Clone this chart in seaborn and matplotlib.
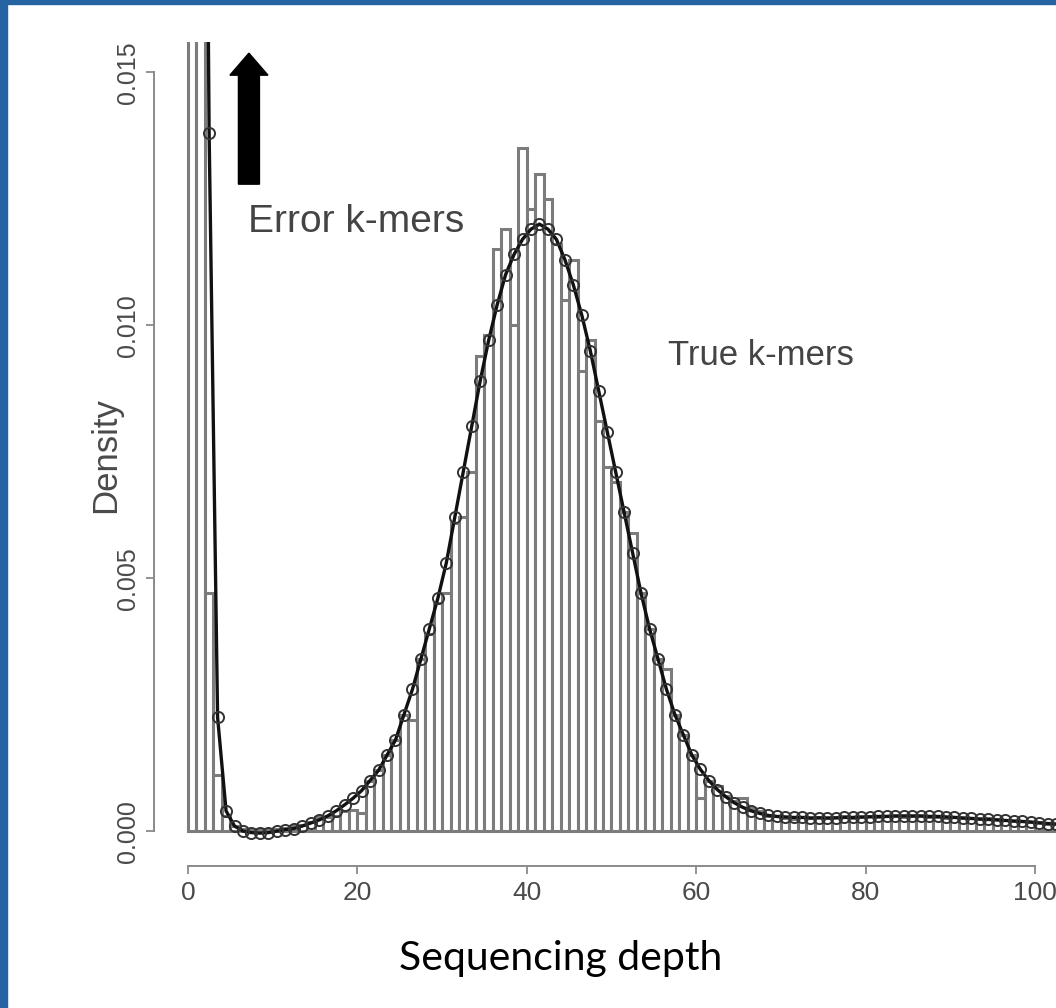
import matplotlib.pyplot as plt
from matplotlib.patches import Rectangle
import numpy as np
import pandas as pd
import seaborn as sns

sns.set_style("ticks")
plt.rcParams["font.family"] = ["Liberation Sans", "DejaVu Sans"]

# histogram: density per 1-unit depth bin, bins start at 0
bar_density = [
    0.060, 0.030, 0.0047, 0.0011, 0.0003, 0.0001, 0.00005, 0.00004, 0.00004, 0.00005,
    0.00005, 0.00007, 0.0001, 0.00012, 0.00018, 0.00028, 0.00027, 0.00029, 0.0004, 0.00042,
    0.00036, 0.0010, 0.0012, 0.0015, 0.0018, 0.0023, 0.0022, 0.0034, 0.0039, 0.0045,
    0.0047, 0.0061, 0.0062, 0.0071, 0.0094, 0.0098, 0.0115, 0.0119, 0.0100, 0.0135,
    0.0123, 0.0130, 0.0125, 0.0116, 0.0105, 0.0113, 0.0091, 0.0097, 0.0081, 0.0072,
    0.0069, 0.0063, 0.0059, 0.0047, 0.0040, 0.0034, 0.0032, 0.0023, 0.0019, 0.0015,
    0.00065, 0.0010, 0.0009, 0.0007, 0.0006, 0.00065, 0.00045, 0.0004, 0.0003, 0.0003,
    0.00026, 0.00024, 0.00027, 0.00025, 0.00028, 0.00026, 0.00027, 0.00029, 0.00026, 0.00028,
    0.0003, 0.00027, 0.00029, 0.0003, 0.00028, 0.0003, 0.00029, 0.00027, 0.00028, 0.00026,
    0.00027, 0.00025, 0.00026, 0.00024, 0.00025, 0.00023, 0.00022, 0.0002, 0.00019, 0.00018,
    0.00017, 0.00015, 0.00014,
]

# fitted mixture density, sampled at the bin midpoints
fit_density = [
    0.08, 0.035, 0.0138, 0.00225, 0.0004, 0.0001, 0.0, -0.00003, -0.00004, -0.00003,
    0.0, 0.00003, 0.00005, 0.0001, 0.00016, 0.00022, 0.0003, 0.0004, 0.00052, 0.00065,
    0.0008, 0.001, 0.0012, 0.0015, 0.0018, 0.0023, 0.0028, 0.0034, 0.0040, 0.0046,
    0.0053, 0.0062, 0.0071, 0.0080, 0.0089, 0.0097, 0.0104, 0.0110, 0.0114, 0.0117,
    0.0119, 0.0120, 0.0119, 0.0117, 0.0113, 0.0108, 0.0102, 0.0095, 0.0087, 0.0079,
    0.0071, 0.0063, 0.0055, 0.0047, 0.0040, 0.0034, 0.0028, 0.0023, 0.0019, 0.0015,
    0.00122, 0.0010, 0.00082, 0.00068, 0.00056, 0.00047, 0.0004, 0.00035, 0.00031, 0.00029,
    0.00028, 0.00027, 0.00027, 0.00026, 0.00026, 0.00026, 0.00026, 0.00027, 0.00027, 0.00028,
    0.00028, 0.00029, 0.00029, 0.0003, 0.0003, 0.0003, 0.0003, 0.00029, 0.00029, 0.00028,
    0.00027, 0.00026, 0.00025, 0.00024, 0.00023, 0.00022, 0.00021, 0.0002, 0.00019, 0.00018,
    0.00016, 0.00015, 0.00014, 0.00013,
]

x_ticks = [0, 20, 40, 60, 80, 100]
y_ticks = [0.000, 0.005, 0.010, 0.015]

hist_df = pd.DataFrame({"depth": np.arange(len(bar_density)) + 0.5, "density": bar_density})
fit_df = pd.DataFrame({"depth": np.arange(len(fit_density)) + 0.5, "density": fit_density})

fig = plt.figure(figsize=(10.56, 10.08), dpi=100)
ax = fig.add_axes([0.1459, 0.1454, 0.8903, 0.8129])

sns.histplot(
    data=hist_df,
    x="depth",
    weights="density",
    binwidth=1,
    binrange=(0, len(bar_density)),
    stat="count",
    color="white",
    edgecolor="#7c7c7c",
    linewidth=2.2,
    alpha=1,
    ax=ax,
)
sns.lineplot(
    data=fit_df,
    x="depth",
    y="density",
    color="#111111",
    lw=2.4,
    marker="o",
    markersize=8,
    markerfacecolor="none",
    markeredgecolor="#333333",
    markeredgewidth=1.4,
    ax=ax,
)

ax.set_xlim(-4, 107)
ax.set_ylim(-0.0006, 0.0156)

# R-style detached axes
for side in ["top", "right"]:
    ax.spines[side].set_visible(False)
ax.spines["left"].set_bounds(0, 0.015)
ax.spines["bottom"].set_bounds(0, 100)
ax.spines["bottom"].set_position(("outward", 3))
for side in ["left", "bottom"]:
    ax.spines[side].set_color("#8a8a8a")
    ax.spines[side].set_linewidth(1.4)

ax.set_xticks(x_ticks)
ax.set_xticklabels([str(v) for v in x_ticks])
ax.set_yticks(y_ticks)
ax.set_yticklabels([f"{v:.3f}" for v in y_ticks])
ax.tick_params(axis="both", length=6, width=1.3, color="#8a8a8a", labelcolor="#4a4a4a")
ax.tick_params(axis="x", labelsize=19, pad=5)
ax.tick_params(axis="y", labelsize=18, labelrotation=90, pad=4)
for lbl in ax.get_yticklabels():
    lbl.set_va("center")

ax.set_ylabel("Density", fontsize=25, color="#4a4a4a")
ax.yaxis.set_label_coords(-0.052, 0.496)
ax.yaxis.label.set_va("center")
ax.set_xlabel("Sequencing depth", fontsize=29.5, color="black", family=["Lato", "DejaVu Sans"])
ax.xaxis.set_label_coords(0.432, -0.118)
ax.xaxis.label.set_va("center")

ax.arrow(7.2, 0.01279, 0, 0.00259, width=2.48, head_width=4.49, head_length=0.000435,
         length_includes_head=True, color="black")
ax.text(7.1, 0.01204, "Error k-mers", fontsize=28, color="#444444", ha="left", va="center")
ax.text(56.7, 0.0094, "True k-mers", fontsize=25, color="#444444", ha="left", va="center")

blue = "#2563a3"
fig.patches.extend([
    Rectangle((0, 0), 7 / 1056, 1, transform=fig.transFigure, color=blue, zorder=10),
    Rectangle((0, 1 - 4 / 1008), 1, 4 / 1008, transform=fig.transFigure, color=blue, zorder=10),
])

fig.savefig("out.png", dpi=100)
